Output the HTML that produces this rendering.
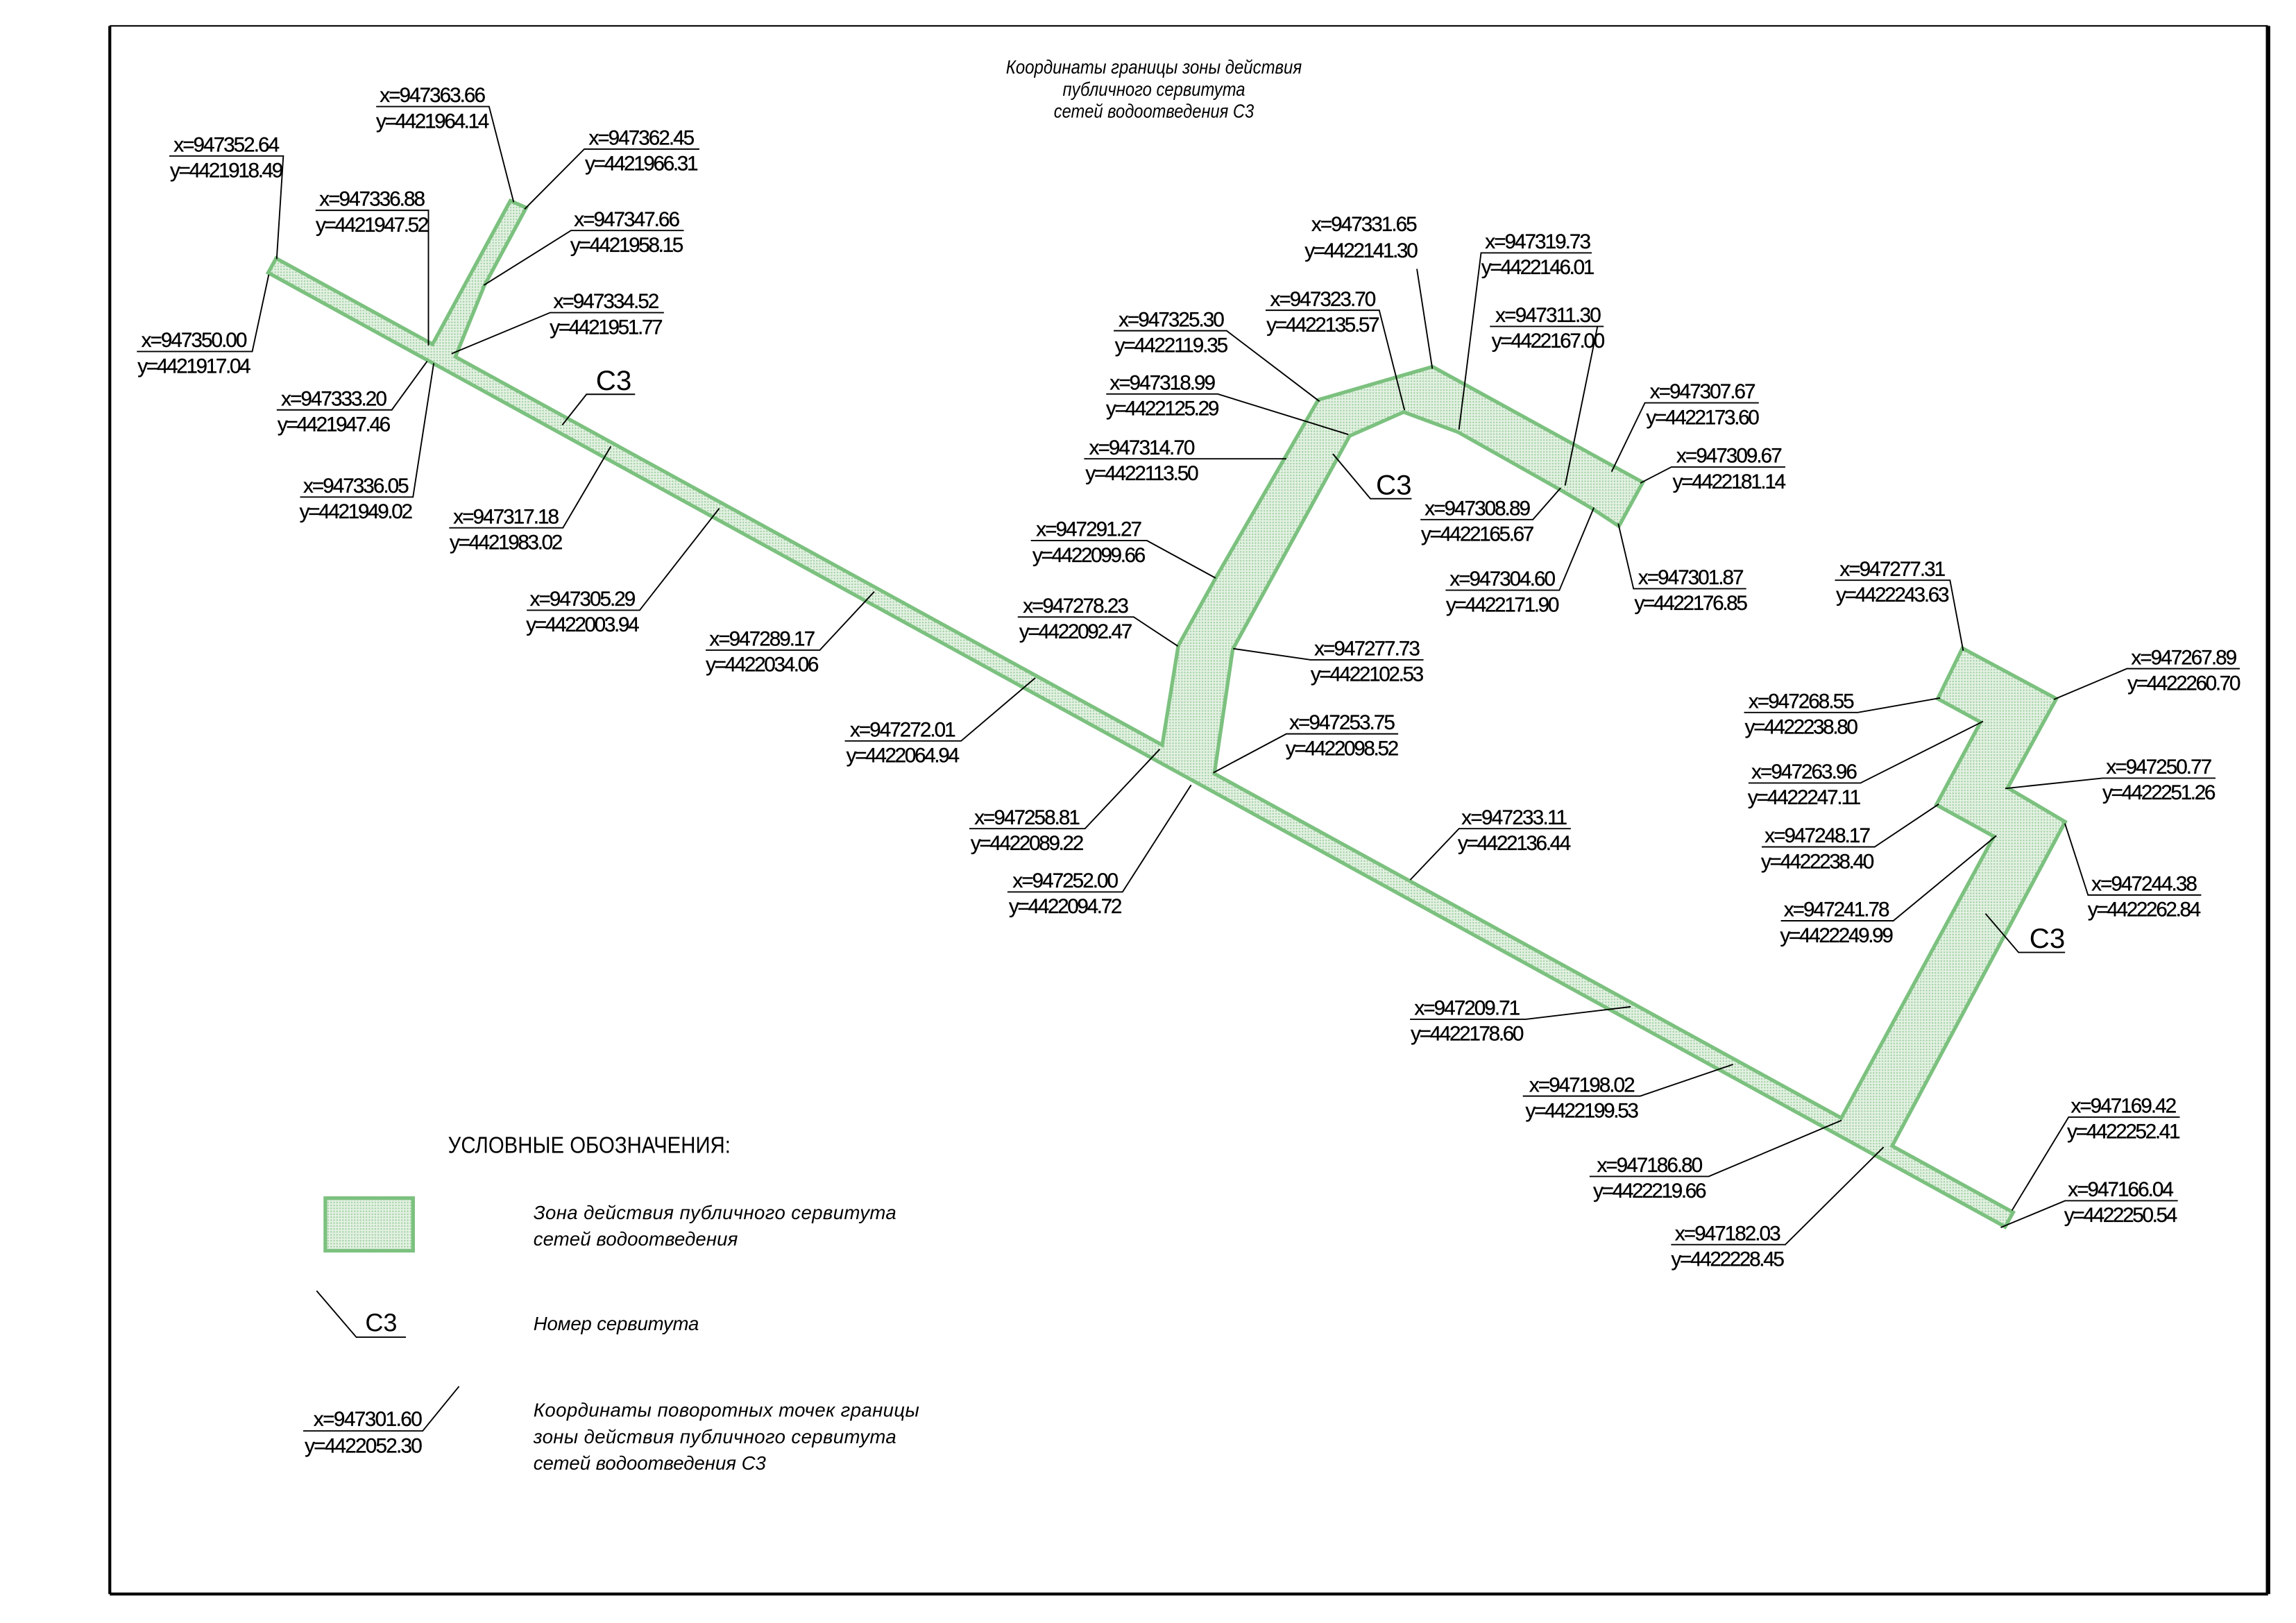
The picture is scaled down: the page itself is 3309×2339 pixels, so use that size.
<!DOCTYPE html>
<html><head><meta charset="utf-8"><style>
html,body{margin:0;padding:0;background:#fff;}
svg{display:block;}
.t{font-family:"Liberation Sans",sans-serif;font-size:14px;fill:#000;text-anchor:middle;stroke:#000;stroke-width:0.15;}
.c{font-family:"Liberation Sans",sans-serif;font-size:19px;fill:#000;text-anchor:middle;}
.r{font-family:"Liberation Sans","DejaVu Sans",sans-serif;font-style:italic;font-size:13px;fill:#000;}
.ln{stroke:#000;stroke-width:0.9;fill:none;}
</style></head><body>
<svg width="3309" height="2339" viewBox="0 0 1560 1102.7" preserveAspectRatio="none" xmlns="http://www.w3.org/2000/svg">
<defs>
<pattern id="dots" width="2" height="2" patternUnits="userSpaceOnUse">
<rect width="2" height="2" fill="#e3f1e3"/>
<circle cx="1" cy="1" r="0.55" fill="#9fcf9f"/>
</pattern>
</defs>
<rect width="1560" height="1102.7" fill="#fff"/>
<!-- frame -->
<line x1="74.6" y1="17.6" x2="1541" y2="17.6" stroke="#000" stroke-width="1"/>
<line x1="74.6" y1="17.6" x2="74.6" y2="1083" stroke="#000" stroke-width="2"/>
<line x1="1541" y1="17.6" x2="1541" y2="1083" stroke="#000" stroke-width="3"/>
<line x1="74.6" y1="1083" x2="1541" y2="1083" stroke="#000" stroke-width="2"/>

<!-- zones: stroke pass -->
<g stroke="#7cc17f" stroke-width="5" stroke-linejoin="miter" fill="none">
<polygon points="188.1,177.2 1366.1,824.2 1361.9,831.8 183.9,184.8"/>
<polygon points="347.3,138 355.8,141.7 327.8,193.8 307,245 292,240"/>
<polygon points="790,512 801.8,439 827.4,392.7 896.5,272.7 973.2,250.5 1114.5,328.2 1099.5,355.7 1083,344.8 1060.4,331.5 991.3,292.5 953.7,278.6 916.1,295.2 836.4,440.7 823,531"/>
<polygon points="1333.9,442.1 1395.5,475.2 1362.4,535.7 1401.5,558.8 1281.3,784 1249,766 1356.4,567.8 1317.3,546.3 1347.4,490.1 1318.2,474.2"/>
<rect x="222.3" y="815.3" width="57.1" height="33.2"/>
</g>
<!-- zones: fill pass -->
<g fill="url(#dots)" stroke="none">
<polygon points="188.1,177.2 1366.1,824.2 1361.9,831.8 183.9,184.8"/>
<polygon points="347.3,138 355.8,141.7 327.8,193.8 307,245 292,240"/>
<polygon points="790,512 801.8,439 827.4,392.7 896.5,272.7 973.2,250.5 1114.5,328.2 1099.5,355.7 1083,344.8 1060.4,331.5 991.3,292.5 953.7,278.6 916.1,295.2 836.4,440.7 823,531"/>
<polygon points="1333.9,442.1 1395.5,475.2 1362.4,535.7 1401.5,558.8 1281.3,784 1249,766 1356.4,567.8 1317.3,546.3 1347.4,490.1 1318.2,474.2"/>
<rect x="222.3" y="815.3" width="57.1" height="33.2"/>
</g>

<!-- title -->
<text class="r" x="784" y="50" text-anchor="middle" textLength="201" lengthAdjust="spacingAndGlyphs">Координаты границы зоны действия</text>
<text class="r" x="784" y="65" text-anchor="middle" textLength="124" lengthAdjust="spacingAndGlyphs">публичного сервитута</text>
<text class="r" x="784" y="80" text-anchor="middle" textLength="136" lengthAdjust="spacingAndGlyphs">сетей водоотведения С3</text>

<!-- leaders & underlines -->
<g class="ln">
<path d="M115,106H192.5L188,176"/>
<path d="M93,238.8H171.4L182.6,186.6"/>
<path d="M255.6,72.4H332.3L349,137.3"/>
<path d="M475.2,101.3H397L356.4,142.1"/>
<path d="M214.4,142.9H291.1V234.7"/>
<path d="M464.6,156.6H388L328.7,193.8"/>
<path d="M451.1,212.4H373.8L306.8,240.3"/>
<path d="M188,278.5H266.2L290.2,245.5"/>
<path d="M203.9,337.7H280.6L294.7,246.8"/>
<path d="M431.5,267.9H398.5L382,288.8"/>
<path d="M305.2,358.6H382.5L415,303.3"/>
<path d="M357.9,414.6H434.6L488.7,345.4"/>
<path d="M479.5,441.7H557L594,402"/>
<path d="M574,503.4H653L703.4,460.6"/>
<path d="M658.6,563H737.2L788,509"/>
<path d="M684.5,606H762.7L809.3,533.3"/>
<path d="M950,498.6H874L824.4,525"/>
<path d="M967.2,448.3H890.5L837.9,440.7"/>
<path d="M691.5,419.2H770.3L800.3,439"/>
<path d="M700.4,367.3H779.3L825.9,392.7"/>
<path d="M736.6,311.7H874"/>
<path d="M751.6,267.7H827.4L916.1,295.2"/>
<path d="M756.7,224.7H833.4L896.5,272.7"/>
<path d="M859.9,210.8H937.1L954.3,278.6"/>
<path d="M962.7,182.7L973.2,250.5"/>
<path d="M1081.5,171.8H1006.3L991.3,291.9"/>
<path d="M1012.3,221.8H1089.6M1085.4,221.8L1063.4,329.9"/>
<path d="M965.1,353H1041.5L1060.4,331.5"/>
<path d="M982.2,401H1059.5L1083,344.8"/>
<path d="M1195,273.7H1117.6L1095,320.5"/>
<path d="M1213,317.3H1135.6L1114.5,328.2"/>
<path d="M1186.5,400H1109.9L1099.5,355.7"/>
<path d="M1246.7,394.2H1324.9L1333.9,442.1"/>
<path d="M1521.8,454.3H1445.1L1395.5,475.2"/>
<path d="M1185,484.1H1262.3L1318.2,474.2"/>
<path d="M1188,532H1264.1L1347.4,490.1"/>
<path d="M1505.3,528.7H1428.6L1362.4,535.7"/>
<path d="M1197,575.4H1273.7L1317.3,546.3"/>
<path d="M1495.6,608.1H1418.7L1403,559.5"/>
<path d="M1210,625.6H1286.4L1356.4,567.8"/>
<path d="M1403.1,647.1H1371.5L1349,620.7"/>
<path d="M958,692.5H1036.7L1108,684"/>
<path d="M1034.7,744.7H1114.4L1177.5,723.2"/>
<path d="M1080,799.3H1161L1251.2,761.2"/>
<path d="M1135.4,845.6H1213L1279.8,779.4"/>
<path d="M1481,759H1405.5L1367,822.4"/>
<path d="M1479.7,815.8H1403.1L1359.4,834"/>
<path d="M1067.3,563H991.3L958.2,597.8"/>
<path d="M959.1,338.8H931.1L905.6,308.4"/>
<!-- legend -->
<path d="M215.1,877L242.1,908.5H275.8"/>
<path d="M206,972.2H287.2L311.9,941.9"/>
</g>

<!-- C3 labels -->
<text class="c" x="417" y="265">С3</text>
<text class="c" x="947" y="336">С3</text>
<text class="c" x="1391" y="644">С3</text>

<!-- coordinate labels -->
<g class="t" lengthAdjust="spacingAndGlyphs">
<text x="154" y="103" textLength="72">x=947352.64</text><text x="154" y="120.5" textLength="77">y=4421918.49</text>
<text x="132" y="235.8" textLength="72">x=947350.00</text><text x="132" y="253.3" textLength="77">y=4421917.04</text>
<text x="294" y="69.4" textLength="72">x=947363.66</text><text x="294" y="86.9" textLength="77">y=4421964.14</text>
<text x="436" y="98.3" textLength="72">x=947362.45</text><text x="436" y="115.8" textLength="77">y=4421966.31</text>
<text x="253" y="139.9" textLength="72">x=947336.88</text><text x="253" y="157.4" textLength="77">y=4421947.52</text>
<text x="426" y="153.6" textLength="72">x=947347.66</text><text x="426" y="171.1" textLength="77">y=4421958.15</text>
<text x="412" y="209.4" textLength="72">x=947334.52</text><text x="412" y="226.9" textLength="77">y=4421951.77</text>
<text x="227" y="275.5" textLength="72">x=947333.20</text><text x="227" y="293" textLength="77">y=4421947.46</text>
<text x="242" y="334.7" textLength="72">x=947336.05</text><text x="242" y="352.2" textLength="77">y=4421949.02</text>
<text x="344" y="355.6" textLength="72">x=947317.18</text><text x="344" y="373.1" textLength="77">y=4421983.02</text>
<text x="396" y="411.6" textLength="72">x=947305.29</text><text x="396" y="429.1" textLength="77">y=4422003.94</text>
<text x="518" y="438.7" textLength="72">x=947289.17</text><text x="518" y="456.2" textLength="77">y=4422034.06</text>
<text x="613.5" y="500.4" textLength="72">x=947272.01</text><text x="613.5" y="517.9" textLength="77">y=4422064.94</text>
<text x="698" y="560" textLength="72">x=947258.81</text><text x="698" y="577.5" textLength="77">y=4422089.22</text>
<text x="724" y="603" textLength="72">x=947252.00</text><text x="724" y="620.5" textLength="77">y=4422094.72</text>
<text x="912" y="495.6" textLength="72">x=947253.75</text><text x="912" y="513.1" textLength="77">y=4422098.52</text>
<text x="929" y="445.3" textLength="72">x=947277.73</text><text x="929" y="462.8" textLength="77">y=4422102.53</text>
<text x="731" y="416.2" textLength="72">x=947278.23</text><text x="731" y="433.7" textLength="77">y=4422092.47</text>
<text x="740" y="364.3" textLength="72">x=947291.27</text><text x="740" y="381.8" textLength="77">y=4422099.66</text>
<text x="776" y="308.7" textLength="72">x=947314.70</text><text x="776" y="326.2" textLength="77">y=4422113.50</text>
<text x="790" y="264.7" textLength="72">x=947318.99</text><text x="790" y="282.2" textLength="77">y=4422125.29</text>
<text x="796" y="221.7" textLength="72">x=947325.30</text><text x="796" y="239.2" textLength="77">y=4422119.35</text>
<text x="899" y="207.8" textLength="72">x=947323.70</text><text x="899" y="225.3" textLength="77">y=4422135.57</text>
<text x="927" y="157" textLength="72">x=947331.65</text><text x="925" y="175" textLength="77">y=4422141.30</text>
<text x="1045" y="168.8" textLength="72">x=947319.73</text><text x="1045" y="186.3" textLength="77">y=4422146.01</text>
<text x="1052" y="218.8" textLength="72">x=947311.30</text><text x="1052" y="236.3" textLength="77">y=4422167.00</text>
<text x="1004" y="350" textLength="72">x=947308.89</text><text x="1004" y="367.5" textLength="77">y=4422165.67</text>
<text x="1021" y="398" textLength="72">x=947304.60</text><text x="1021" y="415.5" textLength="77">y=4422171.90</text>
<text x="1157" y="270.7" textLength="72">x=947307.67</text><text x="1157" y="288.2" textLength="77">y=4422173.60</text>
<text x="1175" y="314.3" textLength="72">x=947309.67</text><text x="1175" y="331.8" textLength="77">y=4422181.14</text>
<text x="1149" y="397" textLength="72">x=947301.87</text><text x="1149" y="414.5" textLength="77">y=4422176.85</text>
<text x="1286" y="391.2" textLength="72">x=947277.31</text><text x="1286" y="408.7" textLength="77">y=4422243.63</text>
<text x="1484" y="451.3" textLength="72">x=947267.89</text><text x="1484" y="468.8" textLength="77">y=4422260.70</text>
<text x="1224" y="481.1" textLength="72">x=947268.55</text><text x="1224" y="498.6" textLength="77">y=4422238.80</text>
<text x="1226" y="529" textLength="72">x=947263.96</text><text x="1226" y="546.5" textLength="77">y=4422247.11</text>
<text x="1467" y="525.7" textLength="72">x=947250.77</text><text x="1467" y="543.2" textLength="77">y=4422251.26</text>
<text x="1235" y="572.4" textLength="72">x=947248.17</text><text x="1235" y="589.9" textLength="77">y=4422238.40</text>
<text x="1457" y="605.1" textLength="72">x=947244.38</text><text x="1457" y="622.6" textLength="77">y=4422262.84</text>
<text x="1248" y="622.6" textLength="72">x=947241.78</text><text x="1248" y="640.1" textLength="77">y=4422249.99</text>
<text x="997" y="689.5" textLength="72">x=947209.71</text><text x="997" y="707" textLength="77">y=4422178.60</text>
<text x="1075" y="741.7" textLength="72">x=947198.02</text><text x="1075" y="759.2" textLength="77">y=4422199.53</text>
<text x="1121" y="796.3" textLength="72">x=947186.80</text><text x="1121" y="813.8" textLength="77">y=4422219.66</text>
<text x="1174" y="842.6" textLength="72">x=947182.03</text><text x="1174" y="860.1" textLength="77">y=4422228.45</text>
<text x="1443" y="756" textLength="72">x=947169.42</text><text x="1443" y="773.5" textLength="77">y=4422252.41</text>
<text x="1441" y="812.8" textLength="72">x=947166.04</text><text x="1441" y="830.3" textLength="77">y=4422250.54</text>
<text x="1029" y="560" textLength="72">x=947233.11</text><text x="1029" y="577.5" textLength="77">y=4422136.44</text>
<text x="250" y="968.8" textLength="74">x=947301.60</text><text x="247" y="987" textLength="80">y=4422052.30</text>
</g>

<!-- legend -->
<text x="304.4" y="783.2" font-family="Liberation Sans, sans-serif" font-size="15.5" textLength="192" lengthAdjust="spacingAndGlyphs">УСЛОВНЫЕ ОБОЗНАЧЕНИЯ:</text>
<text class="c" x="259" y="904.5" style="font-size:17px">С3</text>
<g class="r" lengthAdjust="spacingAndGlyphs">
<text x="362.4" y="828.3" textLength="246.6">Зона действия публичного сервитута</text>
<text x="362.4" y="846.3" textLength="138.9">сетей водоотведения</text>
<text x="362.4" y="903.7" textLength="112.5">Номер сервитута</text>
<text x="362.4" y="962.5" textLength="262.2">Координаты поворотных точек границы</text>
<text x="362.4" y="980.6" textLength="246.6">зоны действия публичного сервитута</text>
<text x="362.4" y="998.6" textLength="158">сетей водоотведения С3</text>
</g>
</svg>
</body></html>
